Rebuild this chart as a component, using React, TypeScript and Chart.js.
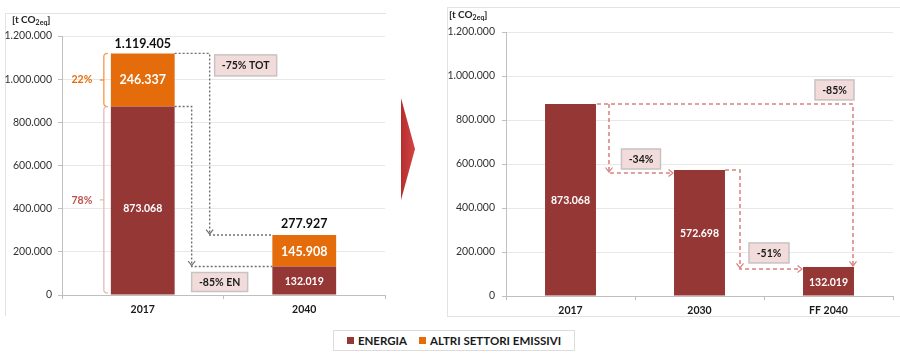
import React, { useEffect, useRef } from "react";
import { Chart, registerables } from "chart.js";

Chart.register(...registerables);

// ---------- DATA ----------
const leftCategories = ["2017", "2040"];
const energiaLeft = [873068, 132019];
const altriLeft = [246337, 145908];
const totalsLeft = [1119405, 277927];
const shareAltri2017 = "22%";
const shareEnergia2017 = "78%";
const leftNotes = ["-75% TOT", "-85% EN"];

const rightCategories = ["2017", "2030", "FF 2040"];
const energiaPath = [873068, 572698, 132019];
const rightNotes = ["-85%", "-34%", "-51%"];

const yMax = 1200000;
const yStep = 200000;

// ---------- STYLE ----------
const RED = "#953735";
const ORANGE = "#E46C0A";
const FONT = "Lato, 'Open Sans', sans-serif";
const BOX_FILL = "#F2DCDB";
const BOX_STROKE = "#C9C2C2";

const fmt = (v: number) => String(Math.round(v)).replace(/\B(?=(\d{3})+(?!\d))/g, ".");

function arrowHead(ctx: CanvasRenderingContext2D, x: number, y: number, dir: string, color: string) {
  ctx.save();
  ctx.setLineDash([]);
  ctx.strokeStyle = color;
  ctx.lineWidth = 1.2;
  ctx.beginPath();
  if (dir === "down") {
    ctx.moveTo(x - 3.5, y - 4.5);
    ctx.lineTo(x, y);
    ctx.lineTo(x + 3.5, y - 4.5);
  } else {
    ctx.moveTo(x - 4.5, y - 3.5);
    ctx.lineTo(x, y);
    ctx.lineTo(x - 4.5, y + 3.5);
  }
  ctx.stroke();
  ctx.restore();
}

function dashed(ctx: CanvasRenderingContext2D, pts: number[][], color: string, dash: number[], lw: number) {
  ctx.save();
  ctx.strokeStyle = color;
  ctx.lineWidth = lw;
  ctx.setLineDash(dash);
  ctx.beginPath();
  ctx.moveTo(pts[0][0], pts[0][1]);
  for (let i = 1; i < pts.length; i++) ctx.lineTo(pts[i][0], pts[i][1]);
  ctx.stroke();
  ctx.restore();
}

function noteBox(ctx: CanvasRenderingContext2D, cx: number, cy: number, w: number, h: number, text: string) {
  ctx.save();
  ctx.fillStyle = BOX_FILL;
  ctx.fillRect(cx - w / 2, cy - h / 2, w, h);
  ctx.strokeStyle = BOX_STROKE;
  ctx.lineWidth = 1.5;
  ctx.strokeRect(cx - w / 2, cy - h / 2, w, h);
  ctx.fillStyle = "#1a1a1a";
  ctx.font = `bold 10.5px ${FONT}`;
  ctx.textAlign = "center";
  ctx.textBaseline = "middle";
  ctx.fillText(text, cx, cy + 0.5);
  ctx.restore();
}

function label(ctx: CanvasRenderingContext2D, text: string, x: number, y: number, size: number, color: string) {
  ctx.save();
  ctx.fillStyle = color;
  ctx.font = `bold ${size}px ${FONT}`;
  ctx.textAlign = "center";
  ctx.textBaseline = "middle";
  ctx.fillText(text, x, y);
  ctx.restore();
}

function bracket(ctx: CanvasRenderingContext2D, x: number, yTop: number, yBot: number, color: string) {
  ctx.save();
  ctx.strokeStyle = color;
  ctx.lineWidth = 1.3;
  ctx.beginPath();
  ctx.moveTo(x + 4, yTop);
  ctx.quadraticCurveTo(x, yTop, x, yTop + 3);
  ctx.lineTo(x, yBot - 3);
  ctx.quadraticCurveTo(x, yBot, x + 4, yBot);
  const ym = (yTop + yBot) / 2;
  ctx.moveTo(x, ym);
  ctx.lineTo(x - 4, ym);
  ctx.stroke();
  ctx.restore();
}

const leftPlugin = {
  id: "leftAnno",
  afterDatasetsDraw(chart: any) {
    const ctx = chart.ctx as CanvasRenderingContext2D;
    const e = chart.getDatasetMeta(0).data;
    const a = chart.getDatasetMeta(1).data;
    const y = chart.scales.y;
    const zero = y.getPixelForValue(0);
    const w = e[0].width;
    const r17 = e[0].x + w / 2;
    const l17 = e[0].x - w / 2;
    const l40 = e[1].x - w / 2;

    // values inside bars
    label(ctx, fmt(altriLeft[0]), a[0].x, (a[0].y + a[0].base) / 2, 12.5, "#fff");
    label(ctx, fmt(energiaLeft[0]), e[0].x, (e[0].y + e[0].base) / 2 + 8, 10.5, "#fff");
    label(ctx, fmt(altriLeft[1]), a[1].x, (a[1].y + a[1].base) / 2 + 1, 12.5, "#fff");
    label(ctx, fmt(energiaLeft[1]), e[1].x, (e[1].y + e[1].base) / 2 + 1, 10.5, "#fff");
    // totals
    label(ctx, fmt(totalsLeft[0]), a[0].x, y.getPixelForValue(totalsLeft[0]) - 9, 12.5, "#111");
    label(ctx, fmt(totalsLeft[1]), a[1].x, y.getPixelForValue(totalsLeft[1]) - 11, 12.5, "#111");

    // brackets
    const bx = l17 - 7;
    bracket(ctx, bx, a[0].y, a[0].base, "#F79646");
    bracket(ctx, bx, e[0].y, zero - 2, "#E6B9B8");
    label(ctx, shareAltri2017, bx - 22, (a[0].y + a[0].base) / 2, 10.5, ORANGE);
    label(ctx, shareEnergia2017, bx - 22, (e[0].y + zero) / 2, 10.5, "#C0504D");

    const gray = "#6F6F6F";
    // TOT arrow
    const xT = r17 + 35;
    const yT40 = a[1].y;
    dashed(ctx, [[r17, a[0].y], [xT, a[0].y], [xT, yT40], [l40, yT40]], gray, [2, 2], 1.4);
    arrowHead(ctx, xT, yT40 - 1, "down", gray);
    // EN arrow
    const xE = r17 + 17;
    const yE40 = e[1].y;
    dashed(ctx, [[r17, e[0].y], [xE, e[0].y], [xE, yE40], [l40, yE40]], gray, [2, 2], 1.4);
    arrowHead(ctx, xE, yE40 - 1, "down", gray);

    noteBox(ctx, r17 + 71, a[0].y + 12, 62, 21, leftNotes[0]);
    noteBox(ctx, r17 + 45, zero - 13, 56, 19, leftNotes[1]);
  },
};

const rightPlugin = {
  id: "rightAnno",
  afterDatasetsDraw(chart: any) {
    const ctx = chart.ctx as CanvasRenderingContext2D;
    const m = chart.getDatasetMeta(0).data;
    const w = m[0].width;
    const right = (i: number) => m[i].x + w / 2;
    const left = (i: number) => m[i].x - w / 2;

    for (let i = 0; i < m.length; i++) {
      label(ctx, fmt(energiaPath[i]), m[i].x, (m[i].y + m[i].base) / 2 + 1, 10.5, "#fff");
    }
    const col = "#D9807E";
    const dash = [4, 3];
    // big -85% arrow
    const xBig = right(2) - 1;
    dashed(ctx, [[right(0) + 1, m[0].y], [xBig, m[0].y], [xBig, m[2].y]], col, dash, 1.5);
    arrowHead(ctx, xBig, m[2].y - 1, "down", col);
    // -34%
    const x1 = right(0) + 13;
    const y1 = m[1].y + 3;
    dashed(ctx, [[x1, m[0].y], [x1, y1], [left(1) - 1, y1]], col, dash, 1.5);
    arrowHead(ctx, x1, y1 - 1, "down", col);
    arrowHead(ctx, left(1) - 1, y1, "right", col);
    // -51%
    const x2 = right(1) + 15;
    const y2 = m[2].y + 2;
    dashed(ctx, [[right(1), m[1].y], [x2, m[1].y], [x2, y2], [left(2) - 1, y2]], col, dash, 1.5);
    arrowHead(ctx, x2, y2 - 1, "down", col);
    arrowHead(ctx, left(2) - 1, y2, "right", col);

    noteBox(ctx, m[2].x + 6, m[0].y - 14, 39, 20, rightNotes[0]);
    noteBox(ctx, right(0) + 45, m[1].y - 11, 39, 20, rightNotes[1]);
    noteBox(ctx, right(1) + 44, m[2].y - 14, 40, 20, rightNotes[2]);
  },
};

function yAxis(width: number, pad: number) {
  return {
    stacked: true,
    min: 0,
    max: yMax,
    afterFit: (s: any) => {
      s.width = width;
    },
    ticks: {
      stepSize: yStep,
      padding: pad,
      color: "#333333",
      font: { family: FONT, size: 10.5 },
      callback: (v: any) => fmt(Number(v)),
    },
    grid: { color: "#E8E8E8", tickLength: 4, tickColor: "#BFBFBF" },
    border: { color: "#BFBFBF" },
  };
}

function xAxis(height: number, pad: number) {
  return {
    stacked: true,
    afterFit: (s: any) => {
      s.height = height;
    },
    ticks: { padding: pad, color: "#1a1a1a", font: { family: FONT, size: 10.5, weight: "bold" } },
    grid: { drawOnChartArea: false, drawTicks: true, tickLength: 4, color: "#BFBFBF", offset: true },
    border: { color: "#BFBFBF" },
  };
}

function LeftChart() {
  const ref = useRef<HTMLCanvasElement>(null);
  useEffect(() => {
    const chart = new Chart(ref.current!, {
      type: "bar",
      data: {
        labels: leftCategories,
        datasets: [
          { label: "ENERGIA", data: energiaLeft, backgroundColor: RED, barPercentage: 0.79, categoryPercentage: 0.5 },
          { label: "ALTRI SETTORI EMISSIVI", data: altriLeft, backgroundColor: ORANGE, barPercentage: 0.79, categoryPercentage: 0.5 },
        ],
      },
      options: {
        animation: false,
        responsive: false,
        maintainAspectRatio: false,
        layout: { padding: { top: 36, right: 15, left: 0, bottom: 0 } },
        plugins: { legend: { display: false }, tooltip: { enabled: false } },
        scales: { x: xAxis(35, 4) as any, y: yAxis(62, 6) as any },
      },
      plugins: [leftPlugin],
    });
    return () => chart.destroy();
  }, []);
  return <canvas ref={ref} width={400} height={330} style={{ position: "absolute", left: 0, top: 0, width: 400, height: 330 }} />;
}

function RightChart() {
  const ref = useRef<HTMLCanvasElement>(null);
  useEffect(() => {
    const chart = new Chart(ref.current!, {
      type: "bar",
      data: {
        labels: rightCategories,
        datasets: [
          { label: "ENERGIA", data: energiaPath, backgroundColor: RED, barPercentage: 0.79, categoryPercentage: 0.5 },
        ],
      },
      options: {
        animation: false,
        responsive: false,
        maintainAspectRatio: false,
        layout: { padding: { top: 32, right: 7, left: 0, bottom: 0 } },
        plugins: { legend: { display: false }, tooltip: { enabled: false } },
        scales: { x: xAxis(34, 4.5) as any, y: yAxis(66, 7) as any },
      },
      plugins: [rightPlugin],
    });
    return () => chart.destroy();
  }, []);
  return <canvas ref={ref} width={460} height={330} style={{ position: "absolute", left: 440, top: 0, width: 460, height: 330 }} />;
}

const unitStyle: React.CSSProperties = {
  position: "absolute",
  fontFamily: FONT,
  fontWeight: "bold",
  fontSize: 10,
  color: "#262626",
  lineHeight: "12px",
  whiteSpace: "nowrap",
};

export default function App() {
  return (
    <div style={{ position: "fixed", left: 0, top: 0, width: 900, height: 360, background: "#fff", overflow: "hidden" }}>
      <div style={{ position: "absolute", left: 5, top: 13, width: 381, height: 303, borderTop: "1px solid #E3E3E3", borderLeft: "1px solid #E3E3E3", boxSizing: "border-box" }} />
      <div style={{ position: "absolute", left: 447, top: 7, width: 460, height: 310, border: "1px solid #E3E3E3", boxSizing: "border-box" }} />
      <LeftChart />
      <RightChart />
      <div style={{ ...unitStyle, left: 12, top: 13 }}>
        [t CO<sub style={{ fontSize: 7, verticalAlign: "-2px" }}>2eq</sub>]
      </div>
      <div style={{ ...unitStyle, left: 449, top: 8 }}>
        [t CO<sub style={{ fontSize: 7, verticalAlign: "-2px" }}>2eq</sub>]
      </div>
      <svg width={20} height={110} style={{ position: "absolute", left: 398, top: 94 }}>
        <defs>
          <linearGradient id="tri" x1="0" x2="1" y1="0" y2="0">
            <stop offset="0" stopColor="#B52E2E" />
            <stop offset="1" stopColor="#D24545" />
          </linearGradient>
        </defs>
        <polygon points="3,4 17,55 3,106" fill="url(#tri)" />
      </svg>
      <div
        style={{
          position: "absolute",
          left: 333,
          top: 330,
          width: 242,
          height: 21,
          border: "1px solid #DCDCDC",
          boxSizing: "border-box",
          display: "flex",
          alignItems: "center",
          justifyContent: "center",
          fontFamily: FONT,
          fontWeight: "bold",
          fontSize: 11.5,
          color: "#1a1a1a",
          gap: 12,
        }}
      >
        <span style={{ display: "flex", alignItems: "center" }}>
          <span style={{ display: "inline-block", width: 7, height: 7, background: RED, marginRight: 4 }} />
          ENERGIA
        </span>
        <span style={{ display: "flex", alignItems: "center" }}>
          <span style={{ display: "inline-block", width: 7, height: 7, background: ORANGE, marginRight: 4 }} />
          ALTRI SETTORI EMISSIVI
        </span>
      </div>
    </div>
  );
}
